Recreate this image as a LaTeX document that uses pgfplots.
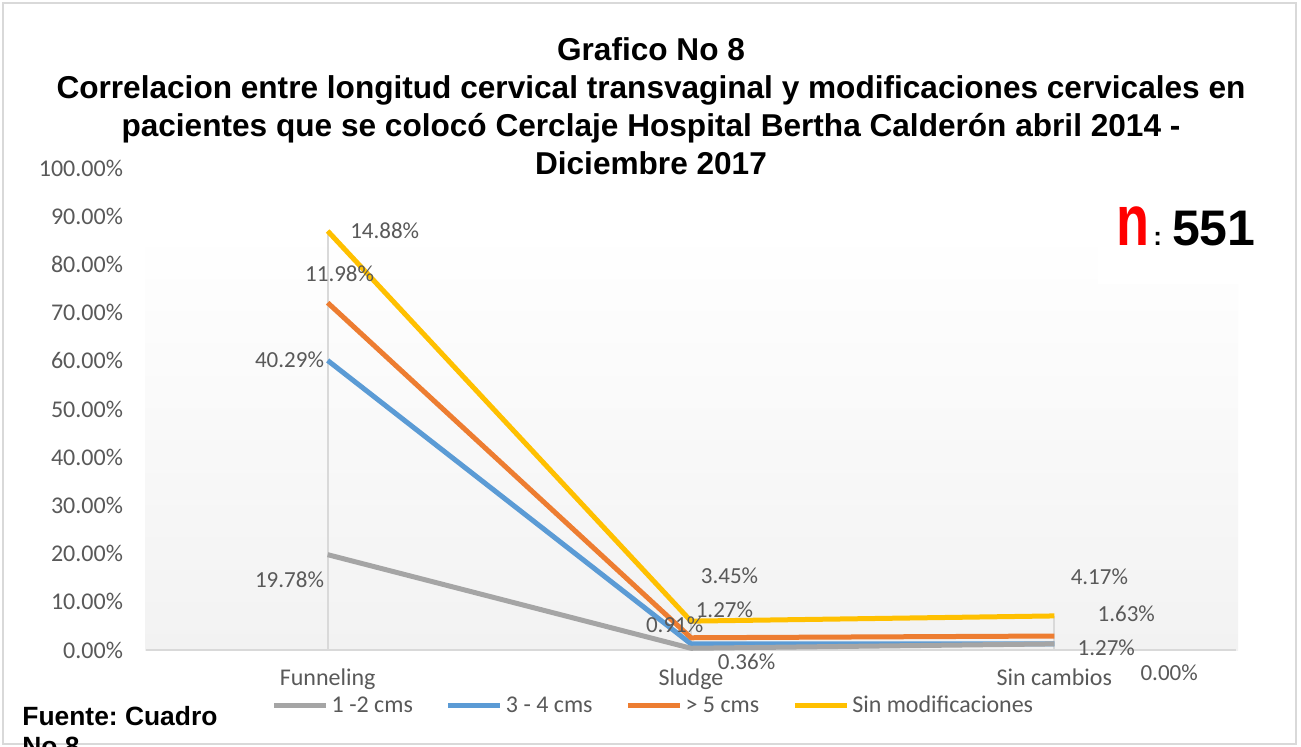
\documentclass[border=0pt]{standalone}
\usepackage{pgfplots}
\pgfplotsset{compat=1.18}
\usepackage{pgfplotstable}
\usepackage{fontspec}
\setmainfont{Carlito}
\newfontfamily\arial{Liberation Sans}
\frenchspacing
\definecolor{cgray}{HTML}{A5A5A5}
\definecolor{cblue}{HTML}{5B9BD5}
\definecolor{corange}{HTML}{ED7D31}
\definecolor{cyellow}{HTML}{FFC000}
\definecolor{lgray}{HTML}{595959}
\definecolor{agray}{HTML}{D9D9D9}
\definecolor{bggray}{HTML}{F2F2F2}
\pgfplotstableread{
x a b c d
0 19.78 40.29 11.98 14.88
1 0.36 0.91 1.27 3.45
2 1.27 0.00 1.63 4.17
}\data
\begin{document}
\begin{tikzpicture}[x=0.5pt,y=0.5pt]
\clip (0,0) rectangle (1301,746);
\fill[white] (0,0) rectangle (1301,746);
\draw[agray, line width=1pt] (3,2) rectangle (1296,743);
% plot area background
\shade[top color=white, bottom color=bggray] (145,96) rectangle (1238,516);
\fill[white] (1098,462) rectangle (1240,556);
% title
\node[align=center, font=\arial\bfseries\fontsize{15.8}{19}\selectfont] at (651,639.5)
 {Grafico No 8\\Correlacion entre longitud cervical transvaginal y modificaciones cervicales en\\pacientes que se colocó Cerclaje Hospital Bertha Calderón abril 2014 -\\Diciembre 2017};
% n: 551
\node[anchor=base west, inner sep=0pt, font=\arial\bfseries] at (1116,501)
 {\textcolor{red}{\scalebox{0.75}[1]{\fontsize{36}{36}\selectfont n}}\hspace{2pt}{\fontsize{13}{13}\selectfont :}\hspace{5pt}{\fontsize{25}{25}\selectfont 551}};
% fuente
\node[anchor=base west, inner sep=0pt, font=\arial\bfseries\fontsize{13.2}{15}\selectfont] at (22,21) {Fuente: Cuadro};
\node[anchor=base west, inner sep=0pt, font=\arial\bfseries\fontsize{13.2}{15}\selectfont] at (22,-9) {No 8};
\begin{axis}[
  at={(73pt,48pt)}, anchor=south west, scale only axis,
  width=545pt, height=241pt,
  xmin=-0.5, xmax=2.5, ymin=0, ymax=100,
  clip=false,
  axis x line*=bottom, axis y line*=left,
  y axis line style={draw=none},
  x axis line style={draw=agray, line width=1pt, -},
  major tick length=0pt,
  xtick={0,1,2}, xticklabels={Funneling,Sludge,Sin cambios},
  ytick={0,10,...,100},
  yticklabel={\pgfmathprintnumber[fixed,fixed zerofill,precision=2,assume math mode=true]{\tick}\%},
  tick label style={font=\fontsize{12}{14}\selectfont, text=lgray},
  yticklabel style={xshift=-8pt},
  xticklabel style={yshift=-6pt},
  legend style={at={(0.466,-0.116)}, anchor=center, draw=none, fill=none,
    legend columns=4, font=\fontsize{12}{14}\selectfont, text=lgray,
    /tikz/every even column/.append style={column sep=15pt},
    nodes={inner sep=1.5pt}},
  legend image code/.code={\draw[#1] (0pt,0pt) -- (26pt,0pt);},
]
\addplot[ycomb, agray, line width=1pt, forget plot] table[x=x, y expr=\thisrow{a}+\thisrow{b}+\thisrow{c}+\thisrow{d}] {\data};
\addplot[cblue, line width=2.5pt, line join=round, forget plot] table[x=x, y expr=\thisrow{a}+\thisrow{b}] {\data};
\addplot[cgray, line width=2.5pt, line join=round, forget plot] table[x=x, y expr=\thisrow{a}] {\data};
\addplot[corange, line width=2.5pt, line join=round, forget plot] table[x=x, y expr=\thisrow{a}+\thisrow{b}+\thisrow{c}] {\data};
\addplot[cyellow, line width=2.5pt, line join=round, forget plot] table[x=x, y expr=\thisrow{a}+\thisrow{b}+\thisrow{c}+\thisrow{d}] {\data};
\addlegendimage{cgray, line width=2.5pt}\addlegendentry{1 -2 cms}
\addlegendimage{cblue, line width=2.5pt}\addlegendentry{3 - 4 cms}
\addlegendimage{corange, line width=2.5pt}\addlegendentry{> 5 cms}
\addlegendimage{cyellow, line width=2.5pt}\addlegendentry{Sin modificaciones}
% data labels
\begin{scope}[every node/.style={font=\fontsize{11.5}{13}\selectfont, text=lgray, inner sep=0pt}]
\node at (axis cs:0.157,86.9) {14.88\%};
\node at (axis cs:0.033,78.0) {11.98\%};
\node at (axis cs:-0.105,60.2) {40.29\%};
\node at (axis cs:-0.105,14.5) {19.78\%};
\node at (axis cs:1.106,15.4) {3.45\%};
\node at (axis cs:1.092,8.3) {1.27\%};
\node at (axis cs:0.955,5.2) {0.91\%};
\node at (axis cs:1.153,-2.5) {0.36\%};
\node at (axis cs:2.124,15.1) {4.17\%};
\node at (axis cs:2.198,7.5) {1.63\%};
\node at (axis cs:2.143,0.4) {1.27\%};
\node at (axis cs:2.316,-4.8) {0.00\%};
\end{scope}
\end{axis}
\end{tikzpicture}
\end{document}
